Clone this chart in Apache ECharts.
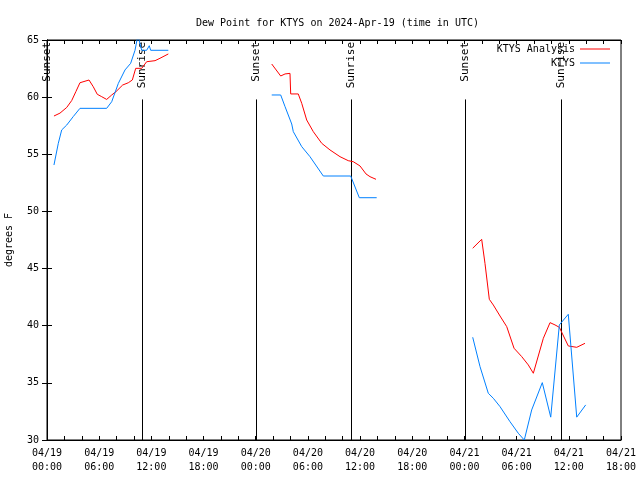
<!DOCTYPE html>
<html>
<head>
<meta charset="utf-8">
<script src="https://cdn.jsdelivr.net/npm/echarts@6/dist/echarts.min.js"></script>
<style>html,body{margin:0;padding:0;background:#fff}#c{width:640px;height:480px}</style>
</head>
<body>
<div id="c"></div>
<script>
// Hours since 2024-04-19 00:00 UTC; null separates gaps
const analysisHours = [0.80,1.49,2.27,2.84,3.33,3.79,4.83,5.32,5.78,6.29,6.86,7.44,7.93,8.70,9.35,9.81,10.20,10.89,11.46,12.42,12.99,13.95,
  null,
  25.84,26.87,27.37,27.94,28.02,28.89,29.29,29.86,30.62,31.59,32.54,33.69,34.64,35.22,35.99,36.68,37.14,37.83,
  null,
  48.95,49.98,50.36,50.86,51.32,52.09,52.86,53.70,54.58,55.34,55.92,57.07,57.84,58.41,58.91,59.94,60.91,61.86];
const analysisDew = [58.35,58.6,59.1,59.7,60.5,61.26,61.5,60.91,60.25,60.04,59.8,60.19,60.48,61.06,61.26,61.5,62.52,62.52,63.1,63.19,63.4,63.78,
  null,
  62.9,61.85,62.03,62.08,60.28,60.28,59.46,58.0,56.98,55.96,55.38,54.79,54.44,54.35,53.98,53.28,53.04,52.81,
  null,
  46.78,47.56,45.46,42.31,41.81,40.85,39.92,38.03,37.3,36.57,35.84,38.9,40.27,40.07,39.86,38.23,38.11,38.46];

const obsHours = [0.80,1.30,1.69,2.27,3.02,3.79,6.86,7.44,8.20,8.97,9.62,10.12,10.45,10.89,11.46,11.76,11.92,13.95,
  null,
  25.84,26.87,27.37,28.14,28.32,29.29,30.24,31.77,34.92,35.91,37.91,
  null,
  48.95,49.79,50.74,51.32,52.09,53.24,54.19,54.88,55.73,56.95,57.92,58.91,59.94,60.91,61.94];
const obsDew = [54.06,55.96,57.13,57.56,58.3,59.02,59.02,59.6,61.2,62.38,62.96,64.1,65.4,64.1,64.1,64.5,64.1,64.1,
  null,
  60.19,60.19,59.17,57.65,56.98,55.67,54.79,53.1,53.1,51.2,51.2,
  null,
  38.99,36.42,34.09,33.65,32.92,31.6,30.59,30.0,32.63,35.02,32.0,40.07,41.0,32.0,33.07];

const eventHours = [0.05,10.92,24.07,34.94,48.03,59.06];
const eventNames = ['Sunset','Sunrise','Sunset','Sunrise','Sunset','Sunrise'];

const xTickLabels = ['04/19\n00:00','04/19\n06:00','04/19\n12:00','04/19\n18:00',
  '04/20\n00:00','04/20\n06:00','04/20\n12:00','04/20\n18:00',
  '04/21\n00:00','04/21\n06:00','04/21\n12:00','04/21\n18:00'];
const yTicks = [30,35,40,45,50,55,60,65];

function pairs(hs, vs){
  const out = [];
  for (let i=0;i<hs.length;i++){
    if (hs[i]===null) { out.push([hs[i-1], null]); }
    else out.push([hs[i], vs[i]]);
  }
  return out;
}

const FONT = 'DejaVu Sans Mono';
const chart = echarts.init(document.getElementById('c'), null, {renderer:'canvas'});
chart.setOption({
  animation:false,
  backgroundColor:'#fff',
  title:{text:'Dew Point for KTYS on 2024-Apr-19 (time in UTC)', left:191, top:13,
    textStyle:{fontFamily:FONT, fontSize:10, fontWeight:'normal', color:'#000'}},
  legend:[
    {data:['KTYS Analysis'], right:30, top:44, padding:0, orient:'vertical', align:'right', itemWidth:30, itemHeight:1, icon:'rect',
     textStyle:{fontFamily:FONT, fontSize:10, color:'#000'}, selectedMode:false},
    {data:['KTYS'], right:30, top:58, padding:0, orient:'vertical', align:'right', itemWidth:30, itemHeight:1, icon:'rect',
     textStyle:{fontFamily:FONT, fontSize:10, color:'#000'}, selectedMode:false}
  ],
  grid:{left:47, right:19, top:40, bottom:40, show:true, borderColor:'#000', borderWidth:1, backgroundColor:'transparent',
    containLabel:false, outerBoundsMode:'none'},
  xAxis:[
    {type:'value', min:0, max:66, interval:2, position:'bottom',
     axisLine:{show:true, lineStyle:{color:'#000', width:1}},
     axisTick:{show:true, inside:true, length:4, lineStyle:{color:'#000'}},
     splitLine:{show:false},
     axisLabel:{margin:6, lineHeight:14, fontFamily:FONT, fontSize:10, color:'#000', hideOverlap:false,
       formatter:function(v){ return (v%6===0) ? xTickLabels[v/6] : ''; }}},
    {type:'value', min:0, max:66, interval:2, position:'top',
     axisLine:{show:true, lineStyle:{color:'#000'}},
     axisTick:{show:true, inside:true, length:4, lineStyle:{color:'#000'}},
     splitLine:{show:false}, axisLabel:{show:false}}
  ],
  yAxis:[
    {type:'value', min:yTicks[0], max:yTicks[yTicks.length-1], interval:5, position:'left',
     name:'degrees F', nameLocation:'middle', nameGap:33, nameRotate:90,
     nameTextStyle:{fontFamily:FONT, fontSize:10, color:'#000'},
     axisLine:{show:true, lineStyle:{color:'#000'}},
     axisTick:{show:true, inside:true, length:5, lineStyle:{color:'#000'}},
     splitLine:{show:false},
     axisLabel:{margin:8, fontFamily:FONT, fontSize:10, color:'#000'}},
    {type:'value', min:yTicks[0], max:yTicks[yTicks.length-1], interval:5, position:'right',
     axisLine:{show:true, lineStyle:{color:'#000'}},
     axisTick:{show:true, inside:true, length:5, lineStyle:{color:'#000'}},
     splitLine:{show:false}, axisLabel:{show:false}}
  ],
  series:[
    {type:'custom', name:'events', xAxisIndex:0, yAxisIndex:0, clip:false, silent:true,
     data:eventHours.map(function(h){return [h, 30];}),
     renderItem:function(params, api){
       const h = api.value(0);
       const top = api.coord([h, 59.8]);
       const bot = api.coord([h, 30]);
       const lab = api.coord([h, 65]);
       const x = Math.round(top[0]) + 0.5;
       return {type:'group', children:[
         {type:'line', shape:{x1:x, y1:top[1], x2:x, y2:bot[1]}, style:{stroke:'#000', lineWidth:1}},
         {type:'text', x:x, y:lab[1]+2, rotation:Math.PI/2,
          style:{text:eventNames[params.dataIndex], align:'right', verticalAlign:'middle',
                 font:'11px "DejaVu Sans Mono"', fill:'#000'}}
       ]};
     }},
    {type:'line', name:'KTYS Analysis', data:pairs(analysisHours, analysisDew), symbol:'none', showSymbol:false,
     connectNulls:false, lineStyle:{color:'#ff0000', width:1}, itemStyle:{color:'#ff0000'}, clip:true},
    {type:'line', name:'KTYS', data:pairs(obsHours, obsDew), symbol:'none', showSymbol:false,
     connectNulls:false, lineStyle:{color:'#0080ff', width:1}, itemStyle:{color:'#0080ff'}, clip:true}
  ]
});
</script>
</body>
</html>
